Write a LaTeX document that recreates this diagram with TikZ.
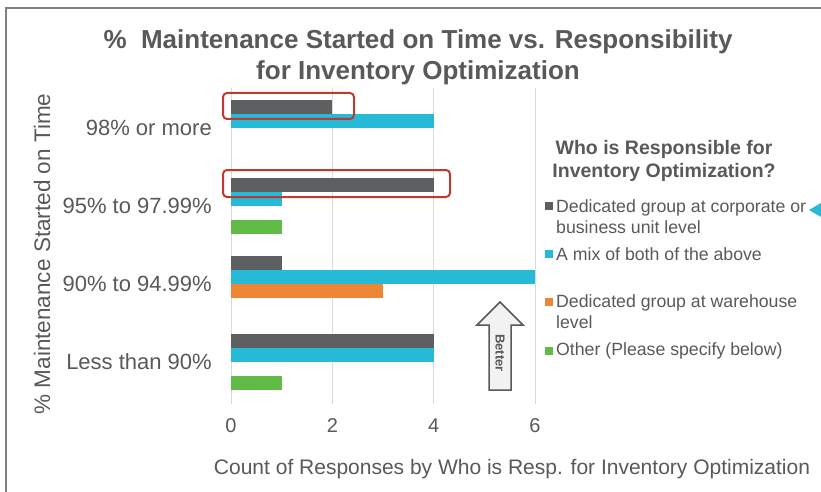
\documentclass[tikz,border=0pt]{standalone}
\usepackage{fontspec}
\setmainfont{Liberation Sans}
\definecolor{txt}{HTML}{595959}
\definecolor{cdark}{HTML}{5E5F61}
\definecolor{ccyan}{HTML}{26BAD7}
\definecolor{corange}{HTML}{EE8635}
\definecolor{cgreen}{HTML}{63BB47}
\definecolor{cred}{HTML}{C0392F}
\definecolor{cgrid}{HTML}{D9D9D9}
\definecolor{cborder}{HTML}{808080}
\definecolor{arrowfill}{HTML}{F2F2F2}
\tikzset{
  lbl/.style={text=txt, inner sep=0pt},
  cat/.style={lbl, anchor=east, font=\fontsize{22}{25}\selectfont},
  tick/.style={lbl, font=\fontsize{20}{24}\selectfont},
  legtext/.style={lbl, anchor=west, align=left, font=\fontsize{17.7}{21}\selectfont},
  legsq/.style={minimum size=8pt, inner sep=0pt},
  redbox/.style={draw=cred, line width=2pt, rounded corners=4pt}
}
\begin{document}
\begin{tikzpicture}[x=1pt,y=-1pt]
\useasboundingbox (0,0) rectangle (821,492);
\fill[white] (0,0) rectangle (821,492);
% frame
\draw[cborder, line width=2pt] (6,492) -- (6,8) -- (821,8);
% title
\node[lbl, align=center, font=\bfseries\fontsize{26}{31}\selectfont] (title) at (418,57)
  {\%\ \ Maintenance Started on Time vs. Responsibility\\for Inventory Optimization};
% gridlines
\foreach \v/\n in {0/g0,2/g2,4/g4,6/g6} {
  \coordinate (\n t) at ({231+50.67*\v},88);
  \coordinate (\n b) at ({231+50.67*\v},404);
  \draw[cgrid, line width=1pt] (\n t) -- (\n b);
  \node[tick] (\n lab) at ({231+50.67*\v},426) {\v};
}
% bars
\foreach \y/\v/\c in {100/2/cdark,114/4/ccyan,
                      178/4/cdark,192/1/ccyan,220/1/cgreen,
                      256/1/cdark,270/6/ccyan,284/3/corange,
                      334/4/cdark,348/4/ccyan,376/1/cgreen} {
  \fill[\c] (231,\y) rectangle ({231+50.67*\v},\y+14);
}
% highlight boxes
\node[redbox, minimum width=131pt, minimum height=26pt, inner sep=0pt] (hl1) at (288.5,106) {};
\node[redbox, minimum width=227pt, minimum height=27pt, inner sep=0pt] (hl2) at (336.5,183.5) {};
% category labels
\node[cat] (c1) at (212,128) {98\% or more};
\node[cat] (c2) at (212,206) {95\% to 97.99\%};
\node[cat] (c3) at (212,284) {90\% to 94.99\%};
\node[cat] (c4) at (212,362) {Less than 90\%};
% axis titles
\node[lbl, rotate=90, font=\fontsize{22.5}{25}\selectfont] (ytitle) at (42,254) {\% Maintenance Started on Time};
\node[lbl, font=\fontsize{21}{25}\selectfont] (xtitle) at (512,469) {Count of Responses by Who is Resp. for Inventory Optimization};
% better arrow
\filldraw[fill=arrowfill, draw=txt, line width=1.5pt, line join=miter]
  (489,390) -- (489,325) -- (477,325) -- (500,302) -- (523,325) -- (511,325) -- (511,390) -- cycle;
\node[lbl, rotate=-90, font=\bfseries\fontsize{13}{15}\selectfont] (better) at (500,353) {Better};
% legend
\node[lbl, align=center, font=\bfseries\fontsize{19.5}{23}\selectfont] (legtitle) at (664,161)
  {Who is Responsible for\\Inventory Optimization?};
\node[legsq, fill=cdark] (sq1) at (549,206) {};
\node[legtext] (l1) at (556,216.5) {Dedicated group at corporate or\\business unit level};
\node[legsq, fill=ccyan] (sq2) at (549,254) {};
\node[legtext] (l2) at (556,254) {A mix of both of the above};
\node[legsq, fill=corange] (sq3) at (549,302) {};
\node[legtext] (l3) at (556,312) {Dedicated group at warehouse\\level};
\node[legsq, fill=cgreen] (sq4) at (549,351) {};
\node[legtext] (l4) at (556,351) {Other (Please specify below)};
% marker at right edge
\fill[ccyan] (809,210) -- (821,203) -- (821,217) -- cycle;
\end{tikzpicture}
\end{document}
